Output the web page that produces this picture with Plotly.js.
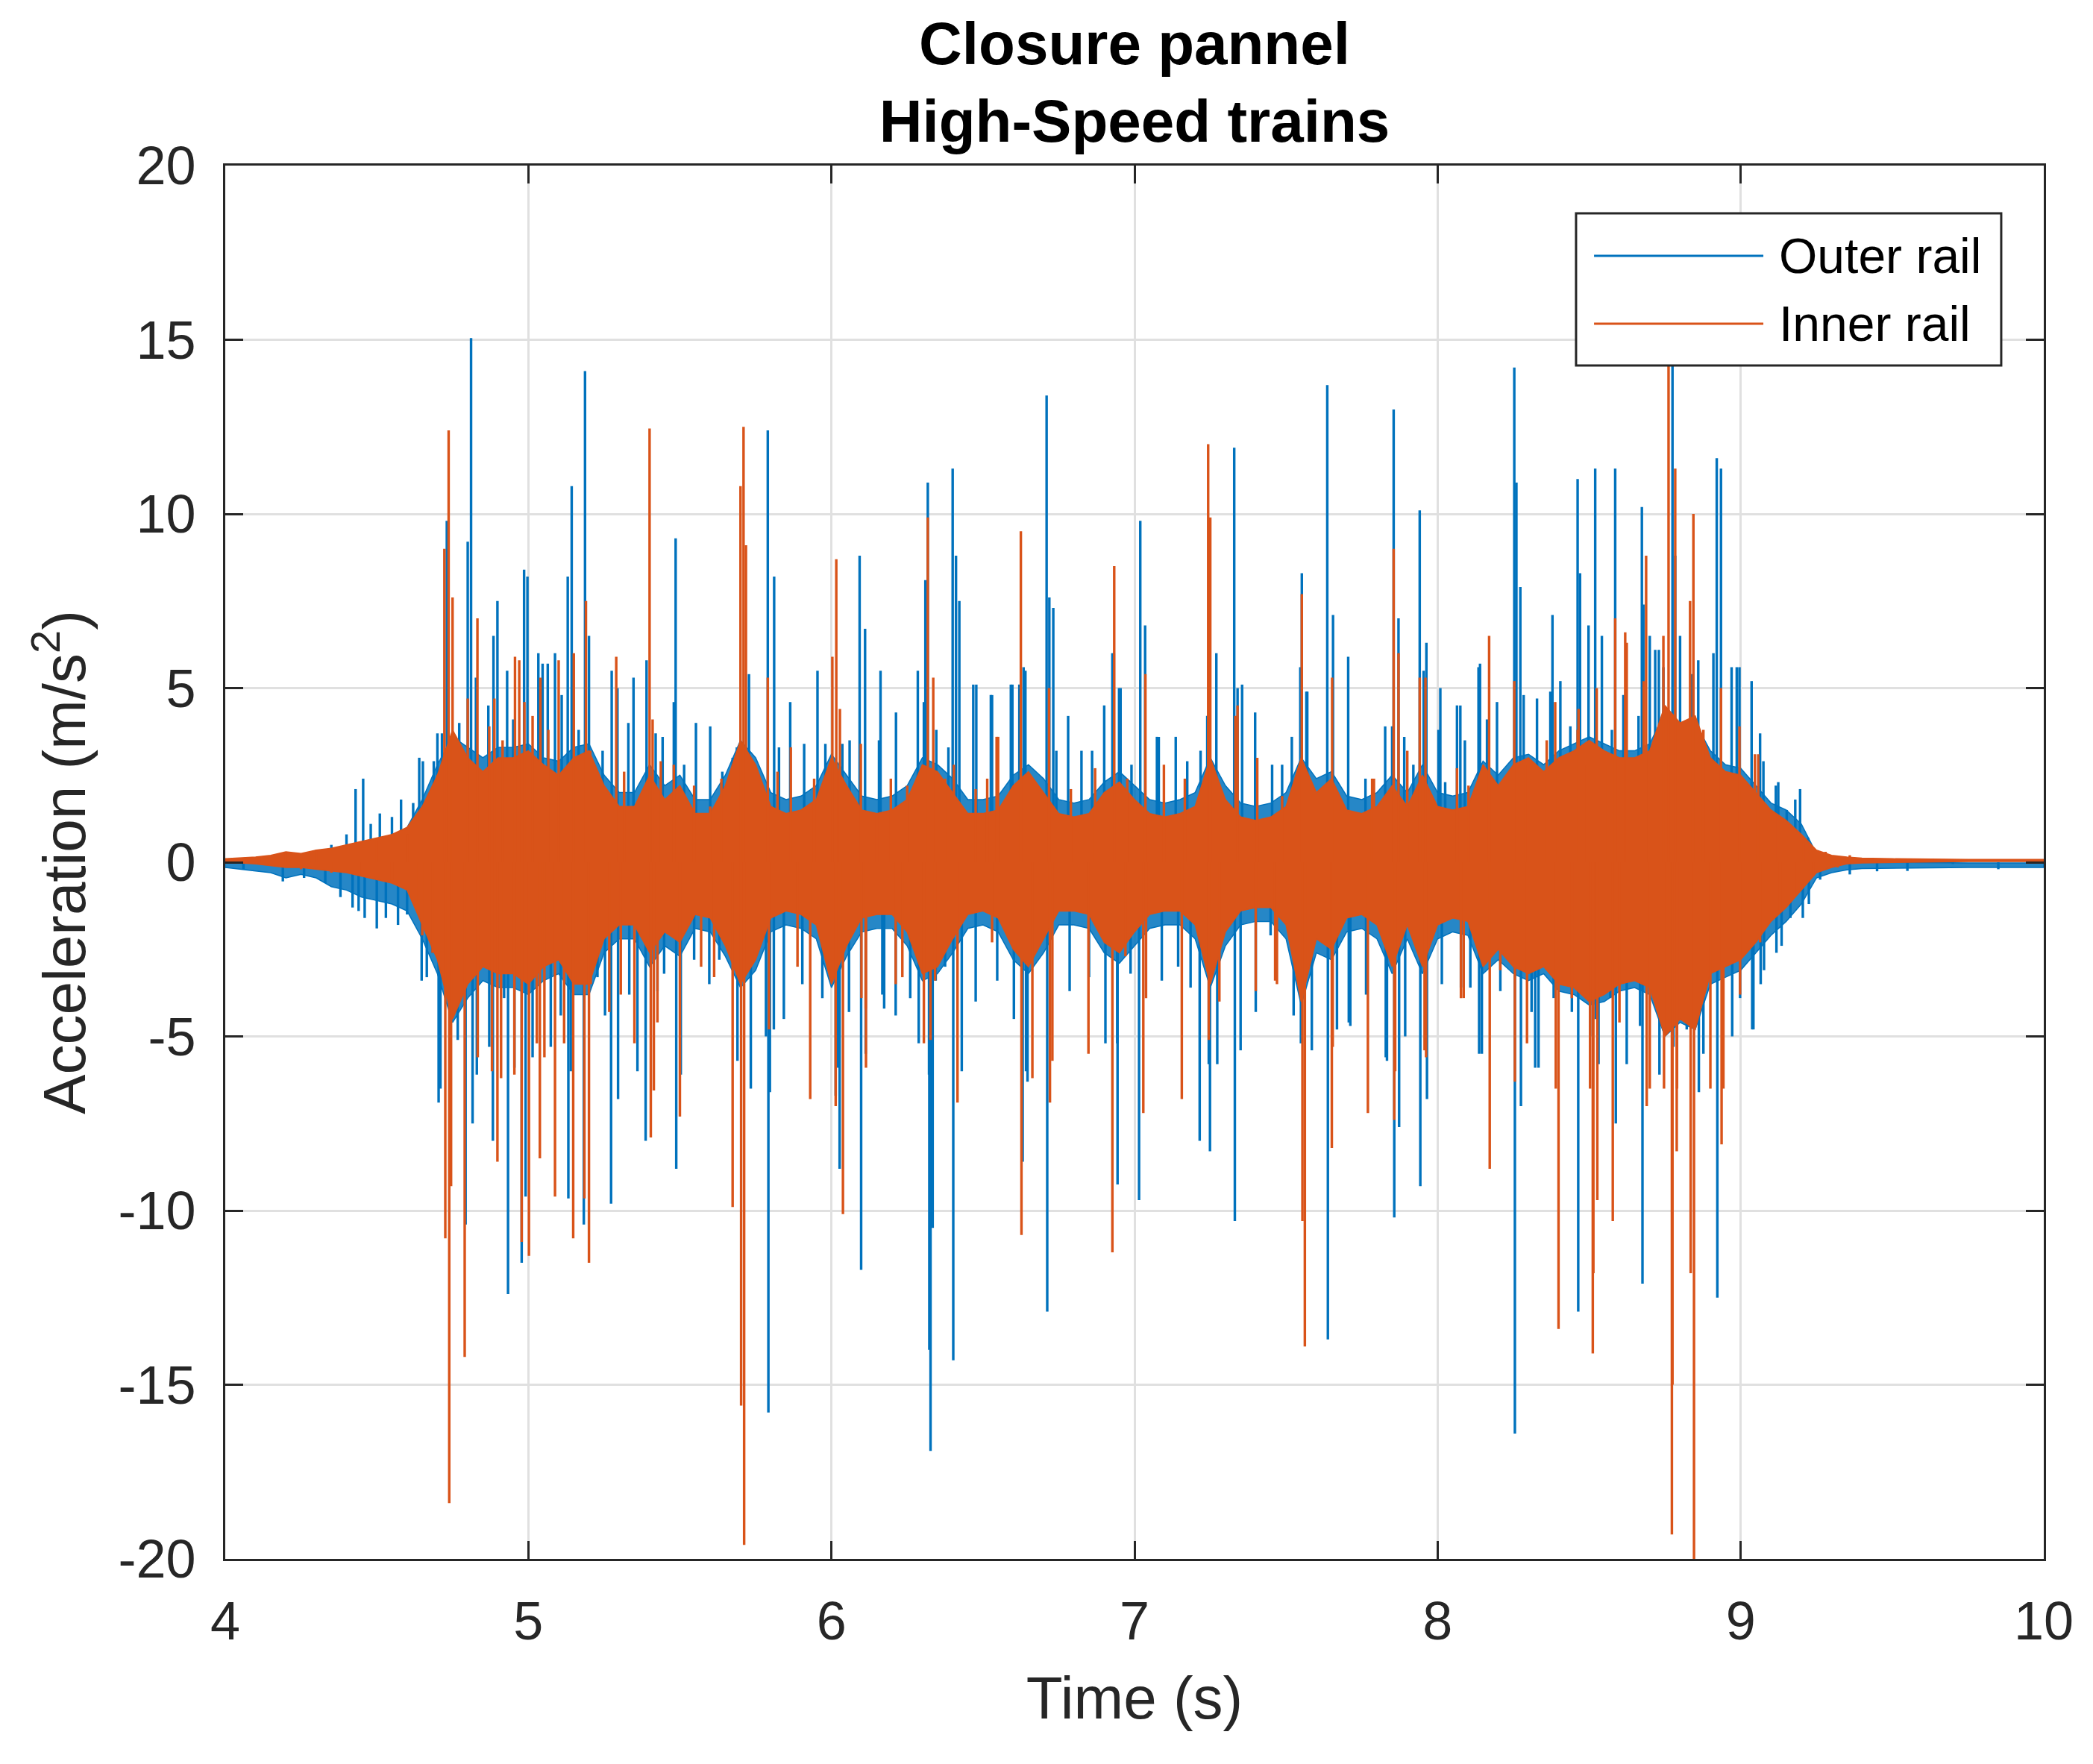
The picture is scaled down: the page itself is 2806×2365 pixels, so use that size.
<!DOCTYPE html>
<html>
<head>
<meta charset="utf-8">
<script src="https://cdn.plot.ly/plotly-3.0.1.min.js"></script>
<style>html,body{margin:0;padding:0;background:#fff}#chart{width:2806px;height:2365px}</style>
</head>
<body>
<div id="chart"></div>
<script>
// ---------------- DATA ----------------
const seriesNames = ['Outer rail', 'Inner rail'];
const xTickVals = [4, 5, 6, 7, 8, 9, 10];
const xTickText = ['4', '5', '6', '7', '8', '9', '10'];
const yTickVals = [-20, -15, -10, -5, 0, 5, 10, 15, 20];
const yTickText = ['-20', '-15', '-10', '-5', '0', '5', '10', '15', '20'];

// Envelope of the dense (solid looking) part of each signal, m/s^2
const envTime = [4.00,4.05,4.10,4.15,4.20,4.25,4.30,4.35,4.40,4.45,4.50,4.55,4.60,4.65,4.70,4.75,4.80,4.85,4.90,4.95,
  5.00,5.05,5.10,5.15,5.20,5.25,5.30,5.35,5.40,5.45,5.50,5.55,5.60,5.65,5.70,5.75,5.80,5.85,5.90,5.95,
  6.00,6.05,6.10,6.15,6.20,6.25,6.30,6.35,6.40,6.45,6.50,6.55,6.60,6.65,6.70,6.75,6.80,6.85,6.90,6.95,
  7.00,7.05,7.10,7.15,7.20,7.25,7.30,7.35,7.40,7.45,7.50,7.55,7.60,7.65,7.70,7.75,7.80,7.85,7.90,7.95,
  8.00,8.05,8.10,8.15,8.20,8.25,8.30,8.35,8.40,8.45,8.50,8.55,8.60,8.65,8.70,8.75,8.80,8.85,8.90,8.95,
  9.00,9.05,9.10,9.15,9.20,9.25,9.30,9.35,9.40,9.50,9.75,10.0];
const outerUpper = [0.00,0.00,0.05,0.05,0.10,0.10,0.20,0.30,0.40,0.50,0.60,0.70,1.00,1.80,2.80,3.60,3.30,3.00,3.30,3.30,
  3.40,3.00,2.90,3.30,3.40,2.50,2.00,2.00,2.80,2.20,2.50,1.80,1.80,2.50,3.50,3.00,2.00,1.80,1.90,2.20,
  3.10,2.50,1.90,1.80,1.90,2.20,3.00,2.80,2.40,1.80,1.80,1.90,2.50,2.80,2.40,1.80,1.70,1.80,2.30,2.60,
  2.20,1.80,1.70,1.80,2.00,3.00,2.20,1.70,1.60,1.70,2.00,3.00,2.40,2.60,1.90,1.80,2.00,2.50,2.00,2.80,
  2.00,1.90,2.00,2.90,2.50,3.00,3.10,2.80,3.20,3.40,3.60,3.40,3.20,3.20,3.40,4.30,3.90,4.00,3.20,2.80,
  2.70,2.20,1.70,1.50,1.10,0.25,0.08,0.04,0.00,0.00,-0.02,-0.02];
const outerLower = [-0.15,-0.20,-0.25,-0.30,-0.45,-0.35,-0.45,-0.70,-0.80,-1.00,-1.10,-1.20,-1.40,-2.20,-3.20,-4.60,-3.90,-3.40,-3.60,-3.60,
  -3.80,-3.40,-3.20,-3.80,-3.80,-2.60,-2.20,-2.20,-3.00,-2.40,-2.70,-1.90,-2.00,-2.70,-3.60,-3.10,-2.00,-1.80,-1.90,-2.20,
  -3.60,-2.70,-2.00,-1.90,-1.90,-2.40,-3.40,-3.20,-2.60,-1.90,-1.80,-2.00,-2.80,-3.20,-2.60,-1.80,-1.80,-1.90,-2.60,-2.90,
  -2.40,-1.90,-1.80,-1.80,-2.20,-3.60,-2.40,-1.80,-1.70,-1.70,-2.20,-4.10,-2.60,-2.80,-2.00,-1.90,-2.20,-3.20,-2.20,-3.20,
  -2.20,-2.00,-2.10,-3.20,-2.80,-3.20,-3.40,-3.20,-3.70,-3.80,-4.10,-4.00,-3.70,-3.60,-3.80,-5.00,-4.60,-4.80,-3.50,-3.30,
  -3.10,-2.60,-2.10,-1.70,-1.20,-0.45,-0.30,-0.22,-0.18,-0.18,-0.15,-0.15];
const innerUpper = [0.10,0.12,0.15,0.20,0.30,0.25,0.35,0.40,0.50,0.60,0.70,0.80,1.00,1.60,2.50,3.80,3.00,2.60,3.00,3.00,
  3.20,2.80,2.50,3.00,3.20,2.20,1.60,1.60,2.50,1.80,2.20,1.40,1.40,2.20,3.50,2.80,1.60,1.40,1.50,1.80,
  3.00,2.20,1.50,1.40,1.50,1.80,2.80,2.60,2.00,1.40,1.40,1.50,2.20,2.60,2.00,1.40,1.30,1.40,2.00,2.30,
  1.80,1.40,1.30,1.40,1.60,3.00,1.80,1.30,1.20,1.30,1.60,3.00,2.00,2.40,1.50,1.40,1.60,2.20,1.60,2.50,
  1.60,1.50,1.60,2.80,2.20,2.80,3.00,2.60,3.00,3.20,3.50,3.20,3.00,3.00,3.20,4.50,4.00,4.20,3.00,2.60,
  2.50,2.00,1.50,1.20,0.80,0.35,0.20,0.15,0.12,0.10,0.08,0.08];
const innerLower = [0.00,-0.02,-0.05,-0.10,-0.15,-0.15,-0.20,-0.25,-0.30,-0.40,-0.50,-0.60,-0.80,-1.80,-2.80,-4.50,-3.50,-3.00,-3.20,-3.20,
  -3.50,-3.00,-2.80,-3.50,-3.50,-2.20,-1.80,-1.80,-2.60,-2.00,-2.30,-1.50,-1.60,-2.40,-3.50,-2.80,-1.60,-1.40,-1.50,-1.80,
  -3.50,-2.40,-1.60,-1.50,-1.50,-2.00,-3.20,-3.00,-2.20,-1.50,-1.40,-1.60,-2.50,-3.00,-2.20,-1.40,-1.40,-1.50,-2.30,-2.60,
  -2.00,-1.50,-1.40,-1.40,-1.80,-3.50,-2.00,-1.40,-1.30,-1.30,-1.80,-4.00,-2.20,-2.50,-1.60,-1.50,-1.80,-3.00,-1.80,-3.00,
  -1.80,-1.60,-1.70,-3.00,-2.50,-3.00,-3.20,-3.00,-3.50,-3.60,-4.00,-3.80,-3.50,-3.40,-3.60,-5.00,-4.50,-4.80,-3.20,-3.00,
  -2.80,-2.30,-1.70,-1.30,-0.80,-0.30,-0.15,-0.05,-0.02,0.00,0.02,0.02];

// Individual peaks (time s, peak value m/s^2) of the outer rail signal
const outerPeakTime = [
  4.06,4.12,4.19,4.22,4.26,4.30,4.33,4.35,4.38,4.40,
  4.42,4.43,4.44,4.455,4.46,4.48,4.50,4.51,4.53,4.55,
  4.57,4.58,4.60,4.62,4.64,4.648,4.652,4.665,4.684,4.688,
  4.70,4.704,4.71,4.715,4.731,4.74,4.767,4.772,4.783,4.793,
  4.80,4.811,4.816,4.827,4.83,4.868,4.871,4.883,4.885,4.898,
  4.92,4.93,4.933,4.95,4.954,4.978,4.986,4.991,4.997,5.014,
  5.033,5.047,5.064,5.074,5.088,5.107,5.11,5.13,5.132,5.14,
  5.143,5.166,5.183,5.187,5.20,5.228,5.245,5.253,5.273,5.275,
  5.294,5.296,5.33,5.333,5.347,5.36,5.387,5.39,5.42,5.426,
  5.443,5.448,5.48,5.486,5.488,5.503,5.514,5.547,5.553,5.597,
  5.60,5.63,5.64,5.674,5.688,5.69,5.728,5.734,5.784,5.79,
  5.792,5.797,5.81,5.811,5.827,5.843,5.864,5.904,5.91,5.954,
  5.97,5.98,6.014,6.02,6.027,6.036,6.058,6.06,6.093,6.098,
  6.111,6.113,6.157,6.162,6.168,6.174,6.212,6.213,6.26,6.285,
  6.288,6.305,6.31,6.318,6.322,6.323,6.327,6.334,6.344,6.346,
  6.375,6.386,6.40,6.402,6.411,6.422,6.43,6.468,6.476,6.478,
  6.526,6.53,6.547,6.592,6.597,6.602,6.62,6.631,6.634,6.64,
  6.642,6.647,6.685,6.688,6.71,6.712,6.719,6.732,6.742,6.781,
  6.786,6.825,6.85,6.86,6.90,6.904,6.927,6.932,6.943,6.944,
  6.949,6.954,6.987,6.99,7.015,7.019,7.035,7.074,7.08,7.09,
  7.136,7.144,7.174,7.185,7.215,7.218,7.24,7.245,7.249,7.27,
  7.273,7.329,7.331,7.34,7.35,7.355,7.398,7.40,7.449,7.454,
  7.487,7.519,7.525,7.547,7.549,7.552,7.567,7.57,7.585,7.636,
  7.638,7.655,7.668,7.705,7.707,7.712,7.762,7.764,7.827,7.829,
  7.833,7.85,7.855,7.857,7.871,7.873,7.89,7.893,7.92,7.941,
  7.943,7.954,7.963,7.965,8.003,8.009,8.014,8.025,8.042,8.064,
  8.075,8.077,8.09,8.108,8.135,8.137,8.14,8.146,8.163,8.196,
  8.207,8.253,8.255,8.26,8.273,8.275,8.284,8.31,8.322,8.328,
  8.333,8.372,8.379,8.383,8.405,8.438,8.443,8.462,8.464,8.47,
  8.498,8.503,8.52,8.522,8.531,8.542,8.57,8.575,8.586,8.588,
  8.613,8.624,8.663,8.668,8.674,8.676,8.679,8.70,8.718,8.73,
  8.732,8.745,8.775,8.778,8.784,8.80,8.822,8.84,8.86,8.862,
  8.877,8.91,8.921,8.923,8.935,8.97,8.972,8.987,8.996,8.998,
  9.036,9.038,9.042,9.064,9.066,9.075,9.077,9.116,9.118,9.124,
  9.135,9.152,9.164,9.18,9.196,9.205,9.223,9.225,9.262,9.30,
  9.36,9.40,9.45,9.55,9.70,9.85];
const outerPeakValue = [
  -0.2,0.12,-0.55,0.15,-0.45,0.3,-0.6,0.5,-1.0,0.8,
  -1.3,2.1,-1.4,2.4,-1.6,1.1,-1.9,1.4,-1.6,1.3,
  -1.8,1.8,-1.5,1.7,3.0,-3.4,2.9,-3.3,-2.6,2.9,
  3.7,-6.9,-6.5,3.7,9.8,-5.0,-5.1,4.0,3.0,-10.4,
  9.2,15.05,-7.5,5.3,-6.1,4.5,-5.3,-8.0,6.5,7.5,
  -3.9,5.5,-12.4,4.1,-5.9,-11.5,8.4,-9.6,8.2,-5.6,
  6.0,5.7,5.7,-5.3,6.0,-4.4,4.8,8.2,-9.65,-6.0,
  10.8,3.8,-10.4,14.1,6.5,-3.3,3.2,-4.4,-9.8,5.5,
  5.0,-6.8,4.0,-3.8,5.3,-6.0,-8.0,5.8,3.7,-3.7,
  3.6,-3.2,4.6,9.3,-8.8,-6.1,2.8,-2.8,4.0,-3.5,
  3.9,-2.8,2.6,3.0,3.3,-5.7,5.4,-6.5,-5.0,12.4,
  -15.8,-6.6,-4.8,8.2,3.3,-4.5,4.6,-3.5,3.4,5.5,
  -3.9,3.4,-6.7,-5.9,-8.8,3.4,-4.3,3.5,8.8,-11.7,
  6.7,-5.5,3.5,5.5,-3.8,-4.2,-4.4,4.3,-3.9,5.5,
  -5.2,4.6,8.1,10.9,-6.1,-14.0,-16.9,-10.5,-3.4,3.8,
  -3.0,3.3,11.3,-14.3,8.8,7.5,-6.0,5.1,-4.0,5.1,
  4.8,4.8,-3.4,5.1,5.1,-4.5,5.1,-8.6,5.6,5.5,
  -6.0,-6.3,1.8,-2.1,13.4,-12.9,7.6,7.3,3.2,4.2,
  -3.7,3.2,-3.3,3.2,4.5,-5.2,6.0,6.0,-5.2,-9.25,
  5.0,5.0,-3.2,2.8,-9.7,9.8,6.8,3.6,3.6,-3.4,
  3.6,-3.0,2.9,-3.6,-8.0,3.2,4.2,-5.8,-8.3,6.0,
  -5.8,11.9,-10.3,5.0,-5.4,5.1,4.3,-4.3,-2.1,2.8,
  2.8,3.6,-4.4,5.6,-5.2,8.3,4.9,4.9,-5.4,13.7,
  -13.7,7.1,-4.8,5.9,-4.6,-4.7,2.4,-3.8,3.9,-5.6,
  -5.7,3.9,13.0,-10.2,7.0,-7.6,3.6,-5.0,2.8,10.1,
  -9.3,5.5,6.3,-6.8,3.8,5.0,-3.5,2.3,-1.6,4.5,
  4.5,-3.6,3.5,-3.6,5.6,-5.5,5.7,-5.5,4.1,4.6,
  -3.7,14.2,-16.4,10.9,7.9,-7.0,4.8,-4.3,-5.9,4.7,
  -5.9,4.9,7.1,-3.9,5.2,3.9,-4.3,11.0,-12.9,8.3,
  6.8,-5.0,11.3,-4.5,-5.8,6.5,-3.9,3.8,11.3,-7.5,
  4.8,-5.8,4.2,-4.7,10.2,-12.1,7.4,6.5,6.1,6.1,
  -6.1,5.6,14.5,-5.3,8.8,6.5,-4.8,5.4,5.8,-6.6,
  -5.5,6.0,11.6,-12.5,11.3,5.6,-5.0,5.6,5.6,-3.9,
  5.2,-4.8,-4.8,3.7,-3.5,2.9,-3.1,2.2,-2.6,2.3,
  -2.4,1.5,-1.6,1.8,2.1,-1.6,0.7,-1.2,-0.5,0.15,
  -0.35,0.05,-0.26,-0.25,-0.05,-0.2];

// Individual peaks (time s, peak value m/s^2) of the inner rail signal
const innerPeakTime = [
  4.12,4.20,4.25,4.30,4.35,4.40,4.45,4.50,4.55,4.60,
  4.63,4.65,4.684,4.70,4.723,4.726,4.737,4.739,4.745,4.75,
  4.79,4.80,4.832,4.833,4.871,4.88,4.888,4.898,4.91,4.915,
  4.954,4.956,4.97,4.978,4.987,5.002,5.014,5.028,5.038,5.04,
  5.053,5.066,5.088,5.10,5.118,5.148,5.15,5.185,5.19,5.20,
  5.204,5.206,5.267,5.29,5.305,5.316,5.35,5.40,5.404,5.41,
  5.414,5.426,5.437,5.48,5.50,5.547,5.57,5.60,5.613,5.637,
  5.674,5.70,5.702,5.71,5.712,5.718,5.79,5.794,5.822,5.866,
  5.888,5.93,5.943,6.003,6.014,6.016,6.028,6.038,6.097,6.099,
  6.113,6.114,6.15,6.196,6.212,6.234,6.25,6.305,6.318,6.327,
  6.336,6.342,6.375,6.404,6.416,6.476,6.514,6.53,6.545,6.55,
  6.625,6.627,6.657,6.663,6.718,6.721,6.729,6.79,6.848,6.87,
  6.927,6.933,6.97,6.976,7.029,7.036,7.038,7.097,7.156,7.166,
  7.243,7.245,7.25,7.28,7.333,7.34,7.40,7.405,7.464,7.47,
  7.487,7.552,7.554,7.562,7.651,7.652,7.654,7.77,7.784,7.79,
  7.855,7.857,7.86,7.871,7.90,7.941,7.957,7.96,7.962,8.064,
  8.077,8.086,8.102,8.17,8.172,8.207,8.253,8.255,8.29,8.295,
  8.36,8.388,8.39,8.399,8.443,8.462,8.465,8.493,8.503,8.512,
  8.514,8.525,8.527,8.553,8.578,8.586,8.60,8.619,8.624,8.68,
  8.688,8.69,8.70,8.745,8.747,8.762,8.773,8.775,8.784,8.789,
  8.79,8.833,8.835,8.844,8.846,8.877,8.90,8.935,8.937,8.943,
  8.996,8.998,9.047,9.058,9.064,9.113,9.13,9.174,9.185,9.207,
  9.24,9.28,9.32,9.36];
const innerPeakValue = [
  0.15,0.3,-0.2,0.35,-0.3,0.4,-0.35,0.6,-0.5,0.8,
  -1.2,-2.1,-2.6,2.5,9.0,-10.8,12.4,-18.4,-9.3,7.6,
  -14.2,4.7,7.0,-5.6,3.9,-6.0,4.7,-8.6,-6.2,3.5,
  -6.1,5.9,5.8,-10.9,4.6,-11.3,4.2,-5.2,-8.5,5.3,
  -5.6,3.8,-9.6,5.8,-5.2,-10.8,6.0,-9.65,7.5,-11.5,
  3.2,-3.5,-4.3,5.9,-3.8,2.6,-5.2,12.45,-7.9,4.1,
  -6.55,-4.6,2.9,2.8,-7.3,2.2,-3.0,1.6,-3.3,2.4,
  -9.9,10.8,-15.6,12.5,-19.6,9.1,5.3,-4.8,2.6,3.3,
  -3.0,-6.8,2.4,5.9,-7.0,8.7,4.4,-10.1,3.4,-3.9,
  -4.2,-5.9,1.4,2.4,-3.5,-3.3,2.2,-5.2,9.9,-5.1,
  5.3,-3.4,2.4,2.8,-6.9,2.1,2.4,-2.3,3.6,3.6,
  9.5,-10.7,2.4,-6.2,5.0,-6.9,-5.7,2.1,-5.5,2.7,
  -11.2,8.5,-2.7,2.4,-7.2,5.4,-3.9,2.8,-6.8,2.4,
  12.0,-5.1,9.9,-4.0,4.2,4.5,-3.7,3.0,-3.4,-3.5,
  1.9,7.7,-10.3,-13.9,-8.2,5.3,-5.3,-7.2,2.4,2.4,
  9.0,-7.4,-6.0,6.0,3.2,5.3,-5.4,5.3,-5.6,2.7,
  -3.9,-3.9,2.2,6.5,-8.8,-3.1,5.2,-6.3,2.8,-5.2,
  3.5,4.6,-6.5,-13.4,-3.9,3.8,4.4,2.8,-6.5,-14.1,
  -11.8,5.0,-9.7,2.8,-10.3,7.0,-4.6,6.6,6.3,5.2,
  8.8,-7.0,-6.5,6.5,-6.5,14.5,-19.3,-15.0,11.3,-8.3,
  -6.5,7.5,-11.8,10.0,-20.5,3.8,-6.5,5.0,-8.1,-6.5,
  3.9,-3.8,3.1,3.1,-2.3,1.3,-1.4,0.9,-0.9,0.6,
  -0.4,0.3,-0.15,0.2];

// ---------------- BUILD ----------------
const BLUE = '#0072BD', ORANGE = '#D95319';

function bandTrace(t, up, lo, color, fill, name) {
  return {
    type: 'scatter', mode: 'lines', name: name, showlegend: false, hoverinfo: 'skip',
    x: t.concat(t.slice().reverse()),
    y: up.concat(lo.slice().reverse()),
    fill: 'toself', fillcolor: fill,
    line: {color: color, width: 1.5}
  };
}
function peakTrace(t, v, color, name) {
  const x = [], y = [];
  for (let i = 0; i < t.length; i++) { x.push(t[i], t[i], null); y.push(0, v[i], null); }
  return {
    type: 'scatter', mode: 'lines', name: name, showlegend: false,
    x: x, y: y, connectgaps: false,
    line: {color: color, width: 3.4}
  };
}

const traces = [
  bandTrace(envTime, outerUpper, outerLower, BLUE, 'rgba(0,114,189,0.85)', seriesNames[0]),
  peakTrace(outerPeakTime, outerPeakValue, BLUE, seriesNames[0]),
  bandTrace(envTime, innerUpper, innerLower, ORANGE, ORANGE, seriesNames[1]),
  peakTrace(innerPeakTime, innerPeakValue, ORANGE, seriesNames[1])
];

const axisCommon = {
  ticks: 'inside', ticklen: 24, tickwidth: 3, tickcolor: '#262626',
  showline: true, linewidth: 3, linecolor: '#262626', mirror: 'ticks',
  showgrid: true, gridcolor: '#e0e0e0', gridwidth: 3, zeroline: false,
  tickfont: {size: 72, color: '#262626', family: 'Liberation Sans, Arial, sans-serif'}
};

const layout = {
  width: 2806, height: 2365,
  margin: {l: 302, r: 66, t: 222, b: 275, pad: 0},
  paper_bgcolor: '#ffffff', plot_bgcolor: '#ffffff',
  showlegend: false,
  font: {family: 'Liberation Sans, Arial, sans-serif', color: '#262626', size: 72},
  title: {
    text: 'Closure pannel<br>High-Speed trains',
    font: {size: 80, color: '#000000', weight: 'bold', family: 'Liberation Sans, Arial, sans-serif'},
    xref: 'paper', x: 0.5, xanchor: 'center',
    yref: 'container', y: 0.9635, yanchor: 'middle'
  },
  xaxis: Object.assign({}, axisCommon, {
    range: [4, 10], tickmode: 'array', tickvals: xTickVals, ticktext: xTickText,
    ticklabelstandoff: 19,
    title: {text: 'Time (s)', font: {size: 80, color: '#262626'}, standoff: 36}
  }),
  yaxis: Object.assign({}, axisCommon, {
    range: [-20, 20], tickmode: 'array', tickvals: yTickVals, ticktext: yTickText,
    ticklabelstandoff: 22,
    title: {text: 'Acceleration (m/s<sup>2</sup>)', font: {size: 80, color: '#262626'}, standoff: 18}
  }),
  shapes: [
    {type: 'rect', xref: 'paper', yref: 'paper', x0: 0.7428, x1: 0.9766, y0: 0.8565, y1: 0.9657,
     fillcolor: '#ffffff', line: {color: '#262626', width: 3}, layer: 'above'},
    {type: 'line', xref: 'paper', yref: 'paper', x0: 0.7527, x1: 0.8458, y0: 0.9352, y1: 0.9352,
     line: {color: BLUE, width: 3}, layer: 'above'},
    {type: 'line', xref: 'paper', yref: 'paper', x0: 0.7527, x1: 0.8458, y0: 0.8865, y1: 0.8865,
     line: {color: ORANGE, width: 3}, layer: 'above'}
  ],
  annotations: [
    {xref: 'paper', yref: 'paper', x: 0.8536, y: 0.9352, xanchor: 'left', yanchor: 'middle',
     text: seriesNames[0], showarrow: false, font: {size: 66, color: '#000000'}},
    {xref: 'paper', yref: 'paper', x: 0.8536, y: 0.8865, xanchor: 'left', yanchor: 'middle',
     text: seriesNames[1], showarrow: false, font: {size: 66, color: '#000000'}}
  ]
};

Plotly.newPlot('chart', traces, layout, {displayModeBar: false, staticPlot: true});
</script>
</body>
</html>
